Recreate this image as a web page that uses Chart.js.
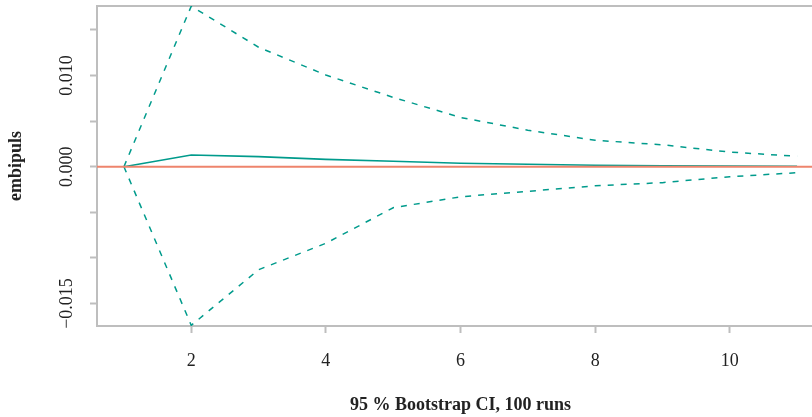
<!DOCTYPE html>
<html>
<head>
<meta charset="utf-8">
<script src="https://cdn.jsdelivr.net/npm/chart.js@4/dist/chart.umd.min.js"></script>
<style>
  html, body { margin: 0; padding: 0; background: #fff; overflow: hidden; width: 812px; height: 417px; }
  #wrap { position: absolute; left: 0; top: 0; width: 860px; height: 417px; }
</style>
</head>
<body>
<div id="wrap"><canvas id="c" width="860" height="417"></canvas></div>
<script>
// ---- data ----
const periods = [1, 2, 3, 4, 5, 6, 7, 8, 9, 10, 11];
const irfValues = [0, 0.00128, 0.0011, 0.0008, 0.0006, 0.00038, 0.00026, 0.00016, 0.0001, 0.00007, 0.00005];
const upperCI = [0, 0.0176, 0.0131, 0.01005, 0.0076, 0.0054, 0.0040, 0.0029, 0.0024, 0.0016, 0.00114];
const lowerCI = [0, -0.0174, -0.0113, -0.0084, -0.0045, -0.0033, -0.0027, -0.0021, -0.00175, -0.0011, -0.00066];
const xTickValues = [2, 4, 6, 8, 10];
const yTickValues = [-0.015, -0.010, -0.005, 0.000, 0.005, 0.010, 0.015];
const yTickLabels = ['\u22120.015', '', '', '0.000', '', '0.010', ''];
const xAxisTitle = '95 % Bootstrap CI, 100 runs';
const yAxisTitle = 'embipuls';
const xMin = 0.6, xMax = 11.4;
const yMin = -0.01747, yMax = 0.01762;
const refLineValue = 0;

const teal = 'rgb(0,155,140)';
const salmon = 'rgb(238,132,108)';
const boxGray = '#BEBEBE';
const serif = "'Liberation Serif', 'Times New Roman', serif";
const fontSize = 18;

const toPts = (ys) => periods.map((p, i) => ({ x: p, y: ys[i] }));

const framePlugin = {
  id: 'frame',
  beforeDatasetsDraw(chart) {
    const { ctx, chartArea } = chart;
    ctx.save();
    ctx.strokeStyle = boxGray;
    ctx.lineWidth = 2;
    ctx.beginPath();
    ctx.moveTo(chartArea.left - 1, chartArea.top);
    ctx.lineTo(chartArea.right, chartArea.top);
    ctx.stroke();
    ctx.restore();
  },
  afterDatasetsDraw(chart) {
    const { ctx, chartArea, scales } = chart;
    const y0 = scales.y.getPixelForValue(refLineValue);
    ctx.save();
    ctx.strokeStyle = salmon;
    ctx.lineWidth = 2;
    ctx.beginPath();
    ctx.moveTo(chartArea.left, y0);
    ctx.lineTo(chartArea.right, y0);
    ctx.stroke();
    ctx.restore();
  }
};

new Chart(document.getElementById('c'), {
  type: 'line',
  data: {
    datasets: [
      { label: 'irf', data: toPts(irfValues), borderColor: teal, borderWidth: 1.6, pointRadius: 0, tension: 0, fill: false },
      { label: 'upper', data: toPts(upperCI), borderColor: teal, borderWidth: 1.5, borderDash: [6, 7], pointRadius: 0, tension: 0, fill: false },
      { label: 'lower', data: toPts(lowerCI), borderColor: teal, borderWidth: 1.5, borderDash: [6, 7], pointRadius: 0, tension: 0, fill: false }
    ]
  },
  options: {
    responsive: false,
    animation: false,
    devicePixelRatio: 1,
    layout: { padding: { top: 6, right: 36, left: 0, bottom: 0 } },
    plugins: { legend: { display: false }, tooltip: { enabled: false } },
    scales: {
      x: {
        type: 'linear',
        min: xMin, max: xMax,
        afterBuildTicks(scale) { scale.ticks = xTickValues.map(v => ({ value: v })); },
        afterFit(scale) { scale.height = 91; scale.paddingLeft = 0; scale.paddingRight = 0; },
        grid: { drawOnChartArea: false, drawTicks: true, tickLength: 7, tickWidth: 2, tickColor: boxGray, color: boxGray },
        border: { display: true, color: boxGray, width: 2 },
        ticks: { color: '#222', font: { family: serif, size: fontSize }, padding: 17, maxRotation: 0, minRotation: 0, autoSkip: false },
        title: { display: true, text: xAxisTitle, color: '#222', font: { family: serif, size: fontSize, weight: 'bold' }, padding: { top: 0, bottom: 1 } }
      },
      y: {
        type: 'linear',
        min: yMin, max: yMax,
        afterBuildTicks(scale) { scale.ticks = yTickValues.map(v => ({ value: v })); },
        afterFit(scale) { scale.width = 97; scale.paddingTop = 0; scale.paddingBottom = 0; },
        grid: { drawOnChartArea: false, drawTicks: true, tickLength: 7, tickWidth: 2, tickColor: boxGray, color: boxGray },
        border: { display: true, color: boxGray, width: 2 },
        ticks: {
          color: '#222', font: { family: serif, size: fontSize }, padding: -3, autoSkip: false,
          minRotation: 90, maxRotation: 90, crossAlign: 'center',
          callback(value, index) { return yTickLabels[index]; }
        },
        title: { display: true, text: yAxisTitle, color: '#222', font: { family: serif, size: fontSize, weight: 'bold' }, padding: { top: 6, bottom: 0 } }
      }
    }
  },
  plugins: [framePlugin]
});
</script>
</body>
</html>
